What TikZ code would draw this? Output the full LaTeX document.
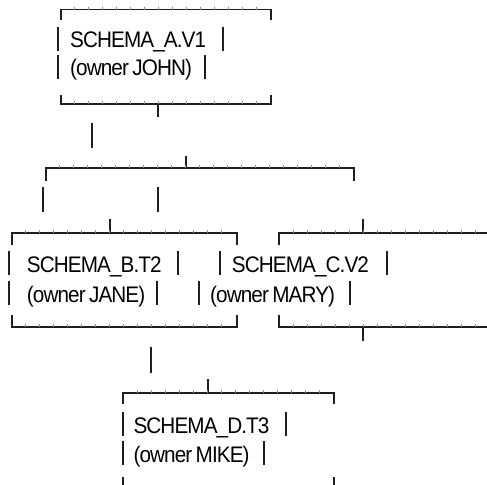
\documentclass[tikz,border=0pt]{standalone}
\usepackage{fontspec}
\setmainfont{Liberation Sans}[FakeStretch=0.92, LetterSpace=-4, WordSpace=0.7]
\usepackage{tikz}

\begin{document}
\begin{tikzpicture}[
  x=1bp, y=-1bp,
  font=\fontsize{22.5bp}{25bp}\selectfont,
  frame/.style={draw=black!88, line width=1.7bp},
  vbar/.style={draw=black!88, line width=2bp},
  tickmark/.style={draw=black!45, line width=0.7bp},
  rowtext/.style={anchor=base west, inner sep=0pt, text=black},
]
\useasboundingbox (0,0) rectangle (487,485);

% === BOX A (top) ===
\draw[frame] (60.7,20) -- (60.7,9.5) -- (270.7,9.5) -- (270.7,20);
\foreach \tx in {74.7,88.7,...,260} \draw[tickmark] (\tx,7.5) -- (\tx,10.5);
\node[rowtext] (a1) at (70,48) {SCHEMA\_A.V1};
\node[rowtext] (a2) at (70,76) {(owner JOHN)};
\foreach \bx/\by in {57.5/48, 222.7/48, 57.5/76, 204.5/76}
  \draw[vbar] (\bx,{\by-21}) -- (\bx,{\by+3});
\draw[frame] (60.7,95) -- (60.7,104) -- (270.7,104) -- (270.7,95);
\foreach \tx in {74.7,88.7,...,260} \draw[tickmark] (\tx,101) -- (\tx,104);
\draw[frame] (158,104) -- (158,117);

% --- link down ---
\draw[vbar] (92,123) -- (92,148);

% === FORK ===
\draw[frame] (186,156) -- (186,168.3);
\draw[frame] (45.7,181) -- (45.7,168.3) -- (354,168.3) -- (354,181);
\foreach \tx in {59.7,73.7,...,345} \draw[tickmark] (\tx,165.3) -- (\tx,168.3);
\draw[vbar] (43.3,187) -- (43.3,212);
\draw[vbar] (157.7,187) -- (157.7,212);

% === BOX B (left) ===
\draw[frame] (110,219) -- (110,233.3);
\draw[frame] (11.7,245) -- (11.7,233.3) -- (236.7,233.3) -- (236.7,245);
\foreach \tx in {25.7,39.7,...,226} \draw[tickmark] (\tx,230.3) -- (\tx,233.3);
\node[rowtext] (b1) at (26.7,272) {SCHEMA\_B.T2};
\node[rowtext] (b2) at (26.7,302) {(owner JANE)};
\draw[frame] (11.7,315) -- (11.7,327.3) -- (236.7,327.3) -- (236.7,315);
\foreach \tx in {25.7,39.7,...,226} \draw[tickmark] (\tx,324.3) -- (\tx,327.3);

% === BOX C (right) ===
\draw[frame] (363.3,219) -- (363.3,233.3);
\draw[frame] (279.3,245) -- (279.3,233.3) -- (487,233.3);
\foreach \tx in {293.3,307.3,...,487} \draw[tickmark] (\tx,230.3) -- (\tx,233.3);
\node[rowtext] (c1) at (231.7,272) {SCHEMA\_C.V2};
\node[rowtext] (c2) at (210,302) {(owner MARY)};
\draw[frame] (279.3,315) -- (279.3,327.3) -- (487,327.3);
\foreach \tx in {293.3,307.3,...,487} \draw[tickmark] (\tx,324.3) -- (\tx,327.3);
\draw[frame] (363.3,327.3) -- (363.3,340.7);

% row bars of B and C
\foreach \bx/\by in {9.3/272, 178.3/272, 220/272, 386.7/272,
                     9.3/302, 156.7/302, 199/302, 350/302}
  \draw[vbar] (\bx,{\by-21}) -- (\bx,{\by+3});

% --- link down ---
\draw[vbar] (150.7,347) -- (150.7,373);

% === BOX D (bottom) ===
\draw[frame] (207.7,379) -- (207.7,392.7);
\draw[frame] (123.3,404) -- (123.3,392.7) -- (334.3,392.7) -- (334.3,404);
\foreach \tx in {137.3,151.3,...,325} \draw[tickmark] (\tx,389.7) -- (\tx,392.7);
\node[rowtext] (d1) at (133.3,433) {SCHEMA\_D.T3};
\node[rowtext] (d2) at (133.3,462) {(owner MIKE)};
\foreach \bx/\by in {122.5/433, 285.7/433, 122.5/462, 264/462}
  \draw[vbar] (\bx,{\by-21}) -- (\bx,{\by+3});
\draw[vbar] (122.7,477) -- (122.7,485);
\draw[vbar] (334.3,477) -- (334.3,485);

\end{tikzpicture}
\end{document}
